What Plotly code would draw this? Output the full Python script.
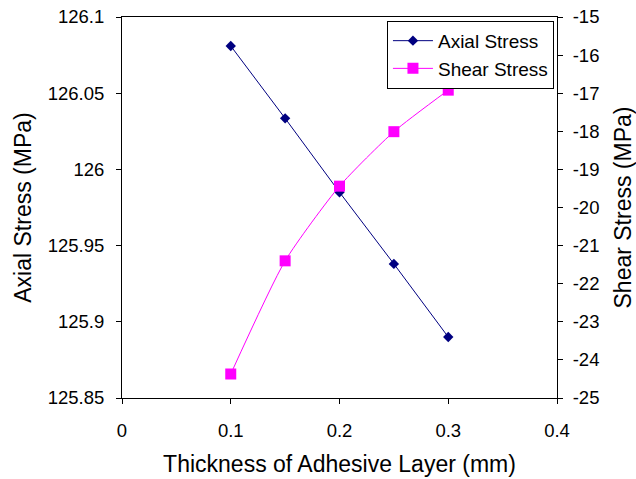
import plotly.graph_objects as go

# Adhesive layer thickness (mm)
thickness = [0.1, 0.15, 0.2, 0.25, 0.3]
# Axial stress (MPa), left axis
axial_stress = [126.081, 126.0335, 125.985, 125.938, 125.890]
# Shear stress (MPa), right axis
shear_stress = [-24.37, -21.40, -19.44, -18.01, -16.92]

x_ticks = [0, 0.1, 0.2, 0.3, 0.4]
axial_ticks = [125.85, 125.9, 125.95, 126, 126.05, 126.1]
shear_ticks = [-25, -24, -23, -22, -21, -20, -19, -18, -17, -16, -15]

FONT = "Liberation Sans, Arial, sans-serif"
TICK_SIZE = 18.5
TITLE_SIZE = 23

fig = go.Figure()
fig.add_trace(go.Scatter(
    x=thickness, y=axial_stress, name="Axial Stress", mode="lines+markers",
    line=dict(color="#000080", width=1),
    marker=dict(symbol="diamond", size=8, color="#000080"),
    yaxis="y",
))
fig.add_trace(go.Scatter(
    x=thickness, y=shear_stress, name="Shear Stress", mode="lines+markers",
    line=dict(color="#FF00FF", width=1, shape="spline", smoothing=0.6),
    marker=dict(symbol="square", size=11, color="#FF00FF"),
    yaxis="y2",
))

axis_common = dict(
    showline=True, linecolor="black", linewidth=1,
    ticks="outside", ticklen=5, tickcolor="black", tickwidth=1,
    showgrid=False, zeroline=False, automargin=False,
    tickfont=dict(family=FONT, size=TICK_SIZE, color="black"),
)

fig.update_layout(
    width=636, height=479,
    margin=dict(l=122, r=79, t=17, b=81),
    paper_bgcolor="white", plot_bgcolor="white",
    font=dict(family=FONT, color="black"),
    xaxis=dict(
        range=[0, 0.4], tickvals=x_ticks, ticktext=[f"{v:g}" for v in x_ticks],
        mirror=True, ticklabelstandoff=11,
        title=dict(text="Thickness of Adhesive Layer (mm)", font=dict(family=FONT, size=TITLE_SIZE), standoff=15),
        **axis_common,
    ),
    yaxis=dict(
        range=[125.85, 126.1], tickvals=axial_ticks, ticktext=[f"{v:g}" for v in axial_ticks],
        ticklabelstandoff=8,
        title=dict(text="Axial Stress (MPa)", font=dict(family=FONT, size=TITLE_SIZE), standoff=9),
        **axis_common,
    ),
    yaxis2=dict(
        range=[-25, -15], tickvals=shear_ticks, ticktext=[f"{v:g}" for v in shear_ticks],
        overlaying="y", side="right", ticklabelstandoff=6,
        title=dict(text="Shear Stress (MPa)", font=dict(family=FONT, size=TITLE_SIZE), standoff=16),
        **axis_common,
    ),
    legend=dict(
        x=0.993, y=0.99, xanchor="right", yanchor="top",
        bordercolor="black", borderwidth=1, bgcolor="white",
        font=dict(family=FONT, size=19, color="black"),
        tracegroupgap=0, itemwidth=40,
    ),
    showlegend=True,
)

fig.write_html("out.html")
